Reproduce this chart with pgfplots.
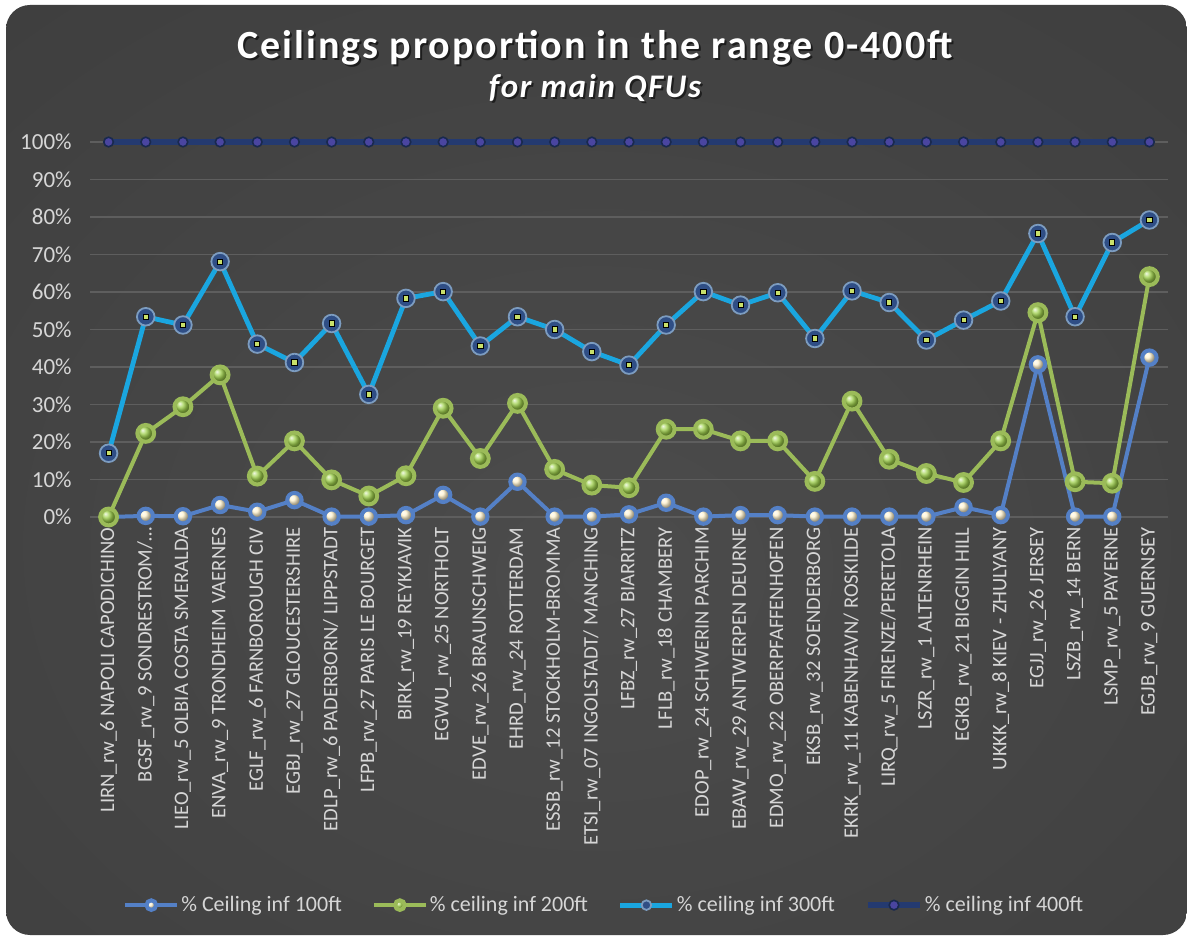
\documentclass[border=0pt]{standalone}
\usepackage{pgfplots}
\pgfplotsset{compat=1.18}
\usepackage{pgfplotstable}
\usepackage{fontspec}
\setmainfont{Carlito}
\newfontfamily\titlefont{Carlito}[LetterSpace=5]

\definecolor{ticktxt}{HTML}{D6D6D6}
\definecolor{gridc}{HTML}{5E5E5E}
\definecolor{bgin}{HTML}{4C4C4C}
\definecolor{bgmid}{HTML}{3E3E3E}
\definecolor{bgout}{HTML}{262626}
\definecolor{c100}{HTML}{5480C6}
\definecolor{m100}{HTML}{FFF2CC}
\definecolor{c200}{HTML}{9BBB59}
\definecolor{m200}{HTML}{9ED04A}
\definecolor{c300}{HTML}{1AA6E0}
\definecolor{m300}{HTML}{2F4E85}
\definecolor{r300}{HTML}{7C9CC0}
\definecolor{s300}{HTML}{C8E06A}
\definecolor{c400}{HTML}{243A70}
\definecolor{m400}{HTML}{4A45A0}

\pgfdeclareradialshading{bgshade}{\pgfpoint{0bp}{-6bp}}{color(0bp)=(bgin); color(40bp)=(bgmid); color(75bp)=(bgout)}

% idx: category position, p100..p400: share of ceilings below 100/200/300/400 ft (%)
\pgfplotstableread{
idx p100 p200 p300 p400
0  0.0  0.0  17.0 100
1  0.3  22.3 53.4 100
2  0.2  29.4 51.2 100
3  3.2  37.9 68.1 100
4  1.4  10.9 46.1 100
5  4.5  20.3 41.2 100
6  0.1  9.9  51.6 100
7  0.1  5.6  32.7 100
8  0.5  11.0 58.3 100
9  5.9  29.0 60.1 100
10 0.1  15.6 45.6 100
11 9.4  30.3 53.4 100
12 0.1  12.7 50.0 100
13 0.1  8.5  44.1 100
14 0.7  7.8  40.5 100
15 3.8  23.4 51.2 100
16 0.1  23.4 60.1 100
17 0.5  20.3 56.5 100
18 0.5  20.3 59.8 100
19 0.1  9.5  47.6 100
20 0.1  30.9 60.3 100
21 0.1  15.4 57.2 100
22 0.1  11.6 47.2 100
23 2.6  9.2  52.5 100
24 0.5  20.3 57.6 100
25 40.7 54.5 75.6 100
26 0.1  9.4  53.4 100
27 0.1  9.0  73.2 100
28 42.5 64.1 79.2 100
}\ceil

\begin{document}
\begin{tikzpicture}
\path[use as bounding box] (0,0) rectangle (593.5pt,468pt);
\fill[white] (0,0) rectangle (593.5pt,468pt);
\shade[rounded corners=12pt, shading=bgshade]
  (3pt,0.5pt) rectangle (593.5pt,465.5pt);

\node[text=black, opacity=0.55, font=\titlefont\bfseries\fontsize{20}{22}\selectfont] at (298.5pt,443pt) {Ceilings proportion in the range 0-400ft};
\node[text=white, font=\titlefont\bfseries\fontsize{20}{22}\selectfont] at (297.5pt,444pt) {Ceilings proportion in the range 0-400ft};
\node[text=black, opacity=0.55, font=\titlefont\bfseries\itshape\fontsize{16.5}{18}\selectfont] at (298.5pt,423pt) {for main QFUs};
\node[text=white, font=\titlefont\bfseries\itshape\fontsize{16.5}{18}\selectfont] at (297.5pt,424pt) {for main QFUs};

\begin{axis}[
  at={(45pt,209.5pt)}, anchor=south west,
  scale only axis, width=539pt, height=187.5pt,
  xmin=-0.5, xmax=28.5, ymin=0, ymax=100,
  clip=false,
  axis line style={draw=none},
  major tick length=0pt,
  ymajorgrids, grid style={gridc, line width=0.7pt},
  ytick={0,10,...,100},
  yticklabels={0\%,10\%,20\%,30\%,40\%,50\%,60\%,70\%,80\%,90\%,100\%},
  xtick={0,...,28},
  xticklabels={
    {LIRN\_rw\_6 NAPOLI CAPODICHINO},
    {BGSF\_rw\_9 SONDRESTROM/…},
    {LIEO\_rw\_5 OLBIA COSTA SMERALDA},
    {ENVA\_rw\_9 TRONDHEIM VAERNES},
    {EGLF\_rw\_6 FARNBOROUGH CIV},
    {EGBJ\_rw\_27 GLOUCESTERSHIRE},
    {EDLP\_rw\_6 PADERBORN/ LIPPSTADT},
    {LFPB\_rw\_27 PARIS LE BOURGET},
    {BIRK\_rw\_19 REYKJAVIK},
    {EGWU\_rw\_25 NORTHOLT},
    {EDVE\_rw\_26 BRAUNSCHWEIG},
    {EHRD\_rw\_24 ROTTERDAM},
    {ESSB\_rw\_12 STOCKHOLM-BROMMA},
    {ETSI\_rw\_07 INGOLSTADT/ MANCHING},
    {LFBZ\_rw\_27 BIARRITZ},
    {LFLB\_rw\_18 CHAMBERY},
    {EDOP\_rw\_24 SCHWERIN PARCHIM},
    {EBAW\_rw\_29 ANTWERPEN DEURNE},
    {EDMO\_rw\_22 OBERPFAFFENHOFEN},
    {EKSB\_rw\_32 SOENDERBORG},
    {EKRK\_rw\_11 KABENHAVN/ ROSKILDE},
    {LIRQ\_rw\_5 FIRENZE/PERETOLA},
    {LSZR\_rw\_1 ALTENRHEIN},
    {EGKB\_rw\_21 BIGGIN HILL},
    {UKKK\_rw\_8 KIEV - ZHULYANY},
    {EGJJ\_rw\_26 JERSEY},
    {LSZB\_rw\_14 BERN},
    {LSMP\_rw\_5 PAYERNE},
    {EGJB\_rw\_9 GUERNSEY}},
  xticklabel style={rotate=90, anchor=east, inner sep=0pt, text=ticktxt, font=\fontsize{10.3}{11}\selectfont},
  xticklabel shift=5pt,
  yticklabel style={inner sep=0pt, text=ticktxt, font=\fontsize{11.5}{12}\selectfont},
  yticklabel shift=9pt,
  legend columns=4,
  legend style={at={(0.477,-1.035)}, anchor=center, draw=none, fill=none,
    text=ticktxt, font=\fontsize{11}{12}\selectfont,
    nodes={inner sep=1pt},
    /tikz/every even column/.append style={column sep=14pt}},
  legend cell align=left,
  legend image code/.code={
    \draw[mark repeat=2, mark phase=2, #1, mark size=2.4pt] plot coordinates {(0pt,0pt) (13pt,0pt) (26pt,0pt)};},
]
\addplot[c100, line width=2pt, mark=ball, mark size=3.6pt, mark options={ball color=m100}]
  table[x=idx, y=p100] {\ceil};
\addlegendentry{\% Ceiling inf 100ft}
\addplot[c200, line width=2pt, mark=ball, mark size=4.2pt, mark options={ball color=m200}]
  table[x=idx, y=p200] {\ceil};
\addlegendentry{\% ceiling inf 200ft}
\addplot[c300, line width=2.4pt, mark=*, mark size=4.4pt, mark options={fill=m300, draw=r300, line width=0.9pt}]
  table[x=idx, y=p300] {\ceil};
\addlegendentry{\% ceiling inf 300ft}
\addplot[c400, line width=3pt, mark=*, mark size=2.4pt, mark options={fill=m400, draw=c400!70!black, line width=0.8pt}]
  table[x=idx, y=p400] {\ceil};
\addlegendentry{\% ceiling inf 400ft}
\addplot[only marks, mark=square*, mark size=1.3pt, mark options={fill=s300, draw=none}, forget plot]
  table[x=idx, y=p300] {\ceil};
\end{axis}
\end{tikzpicture}
\end{document}
